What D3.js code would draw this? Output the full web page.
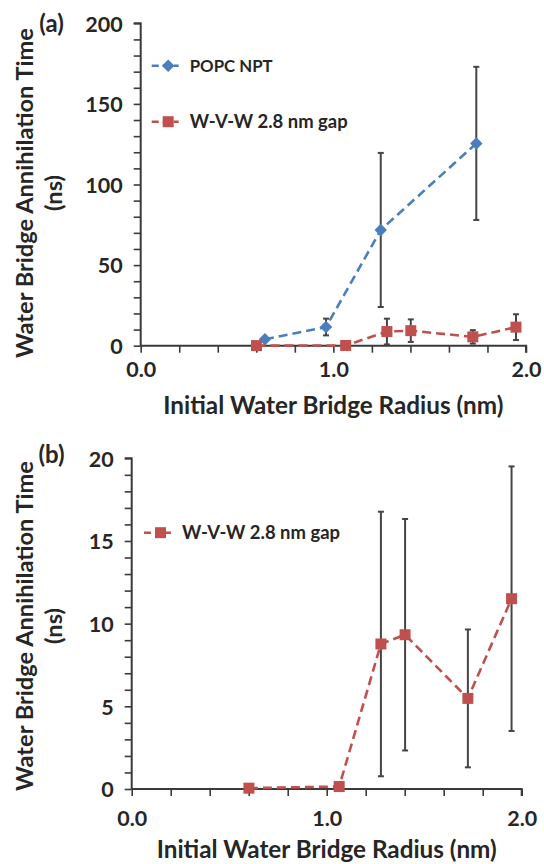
<!DOCTYPE html>
<html>
<head>
<meta charset="utf-8">
<script src="https://cdn.jsdelivr.net/npm/d3@7"></script>
<style>
  html, body { margin: 0; padding: 0; background: #fff; }
  svg { display: block; }
  text { font-family: Lato, "Open Sans", sans-serif; font-weight: 700; fill: #262626; }
</style>
</head>
<body>
<svg id="chart" width="544" height="864"></svg>
<script>
// ---------------- data ----------------
const popcX   = [0.645, 0.962, 1.246, 1.742];
const popcY   = [4.0, 11.6, 71.8, 125.5];
const popcErr = [0, 5.2, 47.8, 47.5];

const wvwX   = [0.601, 1.064, 1.278, 1.402, 1.724, 1.948];
const wvwY   = [0.05, 0.15, 8.77, 9.33, 5.48, 11.51];
const wvwErr = [0, 0, 8.0, 7.0, 4.17, 8.0];

const xMajorLabels = ["0.0", "1.0", "2.0"];
const yMajorA = [0, 50, 100, 150, 200];
const yMajorB = [0, 5, 10, 15, 20];

const seriesNames = ["POPC NPT", "W-V-W 2.8 nm gap"];
const xTitle = "Initial Water Bridge Radius (nm)";
const yTitle1 = "Water Bridge Annihilation Time";
const yTitle2 = "(ns)";

const BLUE = "#4a7ebf";
const RED = "#c0504d";
const AXIS = "#3a3a3a";
const ERR = "#454545";

const svg = d3.select("#chart");

function fitText(sel, target) {
  const node = sel.node();
  const fs = parseFloat(sel.attr("font-size"));
  const len = node.getComputedTextLength();
  sel.attr("font-size", (fs * target / len).toFixed(2));
}

function drawMarker(g, type, cx, cy, color) {
  if (type === "diamond") {
    g.append("path").attr("d", d3.symbol().type(d3.symbolSquare).size(78)())
      .attr("transform", `translate(${cx},${cy}) rotate(45)`)
      .attr("fill", color);
  } else {
    g.append("rect").attr("x", cx - 5.5).attr("y", cy - 5.5)
      .attr("width", 11).attr("height", 11).attr("fill", color);
  }
}

function panel(cfg) {
  const x = d3.scaleLinear().domain([0, 2]).range([cfg.x0, cfg.x1]);
  const y = d3.scaleLinear().domain([0, cfg.ymax]).range([cfg.y0, cfg.y1]);
  const g = svg.append("g");

  // y axis
  const ya = g.append("g").attr("transform", `translate(${cfg.x0},0)`)
    .call(d3.axisLeft(y).tickValues(d3.range(0, cfg.ymax + 1e-9, cfg.ymax / 20))
      .tickSize(7).tickPadding(11)
      .tickFormat(d => cfg.yMajor.some(m => Math.abs(m - d) < 1e-9) ? d : ""));
  ya.select(".domain").attr("stroke", AXIS).attr("stroke-width", 2).attr("d", `M-7,${cfg.y1}H0V${cfg.y0}`);
  ya.selectAll(".tick line").attr("stroke", AXIS).attr("stroke-width", 1.6);
  ya.selectAll(".tick text").attr("font-size", 21.5).attr("font-family", null).attr("dy", "0.36em").attr("fill", "#262626");

  // x axis
  const xa = g.append("g").attr("transform", `translate(0,${cfg.y0})`)
    .call(d3.axisBottom(x).tickValues(d3.range(0, 2.0001, 0.2))
      .tickSize(7)
      .tickFormat(d => {
        const i = Math.round(d);
        return Math.abs(d - i) < 1e-6 ? xMajorLabels[i] : "";
      }));
  xa.select(".domain").attr("stroke", AXIS).attr("stroke-width", 2).attr("d", `M${cfg.x0},0H${cfg.x1}V7`);
  xa.selectAll(".tick line").attr("stroke", AXIS).attr("stroke-width", 1.6);
  xa.selectAll(".tick text").attr("font-size", 21.5).attr("font-family", null)
    .attr("y", cfg.xLabOff).attr("dy", "0.36em").attr("fill", "#262626");

  // series
  cfg.series.forEach(s => {
    const pts = s.xs.map((v, i) => ({ x: v, y: s.ys[i], e: s.es[i] }));
    const eb = g.append("g");
    pts.filter(p => p.e > 0).forEach(p => {
      const px = x(p.x);
      eb.append("line").attr("x1", px).attr("x2", px).attr("y1", y(p.y - p.e)).attr("y2", y(p.y + p.e))
        .attr("stroke", ERR).attr("stroke-width", 2);
      [p.y - p.e, p.y + p.e].forEach(v => {
        eb.append("line").attr("x1", px - 3).attr("x2", px + 3).attr("y1", y(v)).attr("y2", y(v))
          .attr("stroke", ERR).attr("stroke-width", 2);
      });
    });
    g.append("path").datum(pts)
      .attr("d", d3.line().x(p => x(p.x)).y(p => y(p.y)))
      .attr("fill", "none").attr("stroke", s.color).attr("stroke-width", 2.6)
      .attr("stroke-dasharray", "9,5");
    const mg = g.append("g");
    pts.forEach(p => drawMarker(mg, s.marker, x(p.x), y(p.y), s.color));
  });

  // legend
  cfg.series.forEach((s, i) => {
    const ly = cfg.legY[i];
    const lx = cfg.legX;
    g.append("line").attr("x1", lx).attr("x2", lx + 27).attr("y1", ly).attr("y2", ly)
      .attr("stroke", s.color).attr("stroke-width", 2.6).attr("stroke-dasharray", "7,4");
    drawMarker(g, s.marker, lx + 16.5, ly, s.color);
    const t = g.append("text").attr("x", lx + 38).attr("y", ly).attr("dy", "0.36em")
      .attr("font-size", 18).text(s.name);
    fitText(t, s.name === seriesNames[0] ? 83 : 158);
  });

  // x title
  const xt = g.append("text").attr("x", (cfg.x0 + cfg.x1) / 2).attr("y", cfg.y0 + 60)
    .attr("dy", "0.36em").attr("text-anchor", "middle").attr("font-size", 21).text(xTitle);
  fitText(xt, 340);

  // y title
  const yt1 = g.append("text").attr("transform", `translate(33,${cfg.yTitleC}) rotate(-90)`)
    .attr("text-anchor", "middle").attr("font-size", 21).text(yTitle1);
  fitText(yt1, 330);
  g.append("text").attr("transform", `translate(62,${cfg.yTitleC}) rotate(-90)`)
    .attr("text-anchor", "middle").attr("font-size", yt1.attr("font-size")).text(yTitle2);

  // panel label
  g.append("text").attr("x", 51.5).attr("y", cfg.labY).attr("dy", "0.36em")
    .attr("text-anchor", "middle").attr("font-size", 24).text(cfg.label);
}

panel({
  x0: 140.7, x1: 526, y0: 345.7, y1: 23.3, ymax: 200, yMajor: yMajorA,
  xLabOff: 24, yTitleC: 193, labY: 23, label: "(a)",
  legX: 151.7, legY: [65.7, 121.7],
  series: [
    { name: seriesNames[0], xs: popcX, ys: popcY, es: popcErr, color: BLUE, marker: "diamond" },
    { name: seriesNames[1], xs: wvwX, ys: wvwY, es: wvwErr, color: RED, marker: "square" }
  ]
});

panel({
  x0: 131.7, x1: 521.7, y0: 789, y1: 458.3, ymax: 20, yMajor: yMajorB,
  xLabOff: 29.5, yTitleC: 626, labY: 454, label: "(b)",
  legX: 144, legY: [532.7],
  series: [
    { name: seriesNames[1], xs: wvwX, ys: wvwY, es: wvwErr, color: RED, marker: "square" }
  ]
});
</script>
</body>
</html>
